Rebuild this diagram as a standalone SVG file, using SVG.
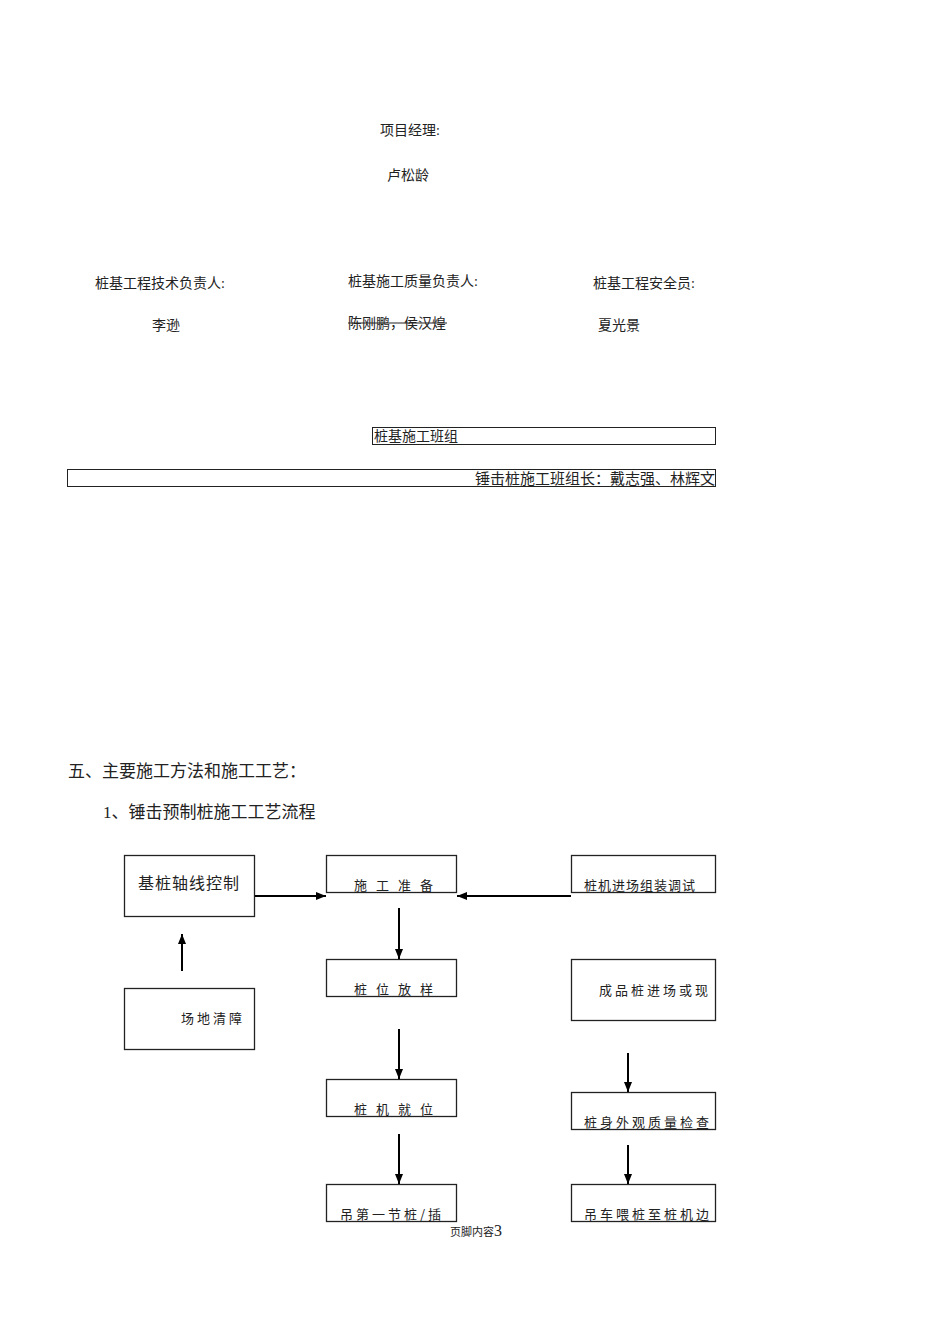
<svg xmlns="http://www.w3.org/2000/svg" width="950" height="1344" viewBox="0 0 950 1344">
<defs><marker id="ah" markerWidth="10" markerHeight="8" refX="10" refY="4" orient="auto" markerUnits="userSpaceOnUse"><path d="M0,0 L10,4 L0,8 Z" fill="#000"/></marker></defs>
<style>
text{font-family:"Liberation Serif","Noto Sans CJK SC",serif;fill:#222}
.t{font-size:14px}
.b{fill:#fff;stroke:#222;stroke-width:1.3}
.n{font-family:"Noto Sans CJK SC",sans-serif;font-size:13px;letter-spacing:3px}
.c{stroke:#000;stroke-width:2;fill:none;marker-end:url(#ah)}
</style>
<rect width="950" height="1344" fill="#fff"/>
<text class="t" x="380" y="135">项目经理:</text>
<text class="t" x="387" y="180">卢松龄</text>
<text class="t" x="95" y="288">桩基工程技术负责人:</text>
<text class="t" x="348" y="286">桩基施工质量负责人:</text>
<text class="t" x="593" y="288">桩基工程安全员:</text>
<text class="t" x="152" y="330">李逊</text>
<text class="t" x="348" y="328">陈刚鹏，侯汉煌</text>
<line x1="348" y1="323" x2="447" y2="323" stroke="#222" stroke-width="1"/>
<text class="t" x="598" y="330">夏光景</text>
<g id="team"><rect x="372.5" y="427.5" width="343" height="17" fill="none" stroke="#222"/><text class="t" x="374" y="441">桩基施工班组</text></g>
<g id="leader"><rect x="67.5" y="469.5" width="648" height="17" fill="none" stroke="#222"/><text class="t" x="715" y="484" text-anchor="end" style="font-size:15px">锤击桩施工班组长：戴志强、林辉文</text></g>
<text x="68" y="777" style="font-size:17px">五、主要施工方法和施工工艺：</text>
<text x="103" y="818" style="font-size:17px">1、锤击预制桩施工工艺流程</text>
<g id="n1"><rect class="b" x="124.5" y="855.5" width="130" height="61"/><text class="n" x="138" y="889" style="font-size:16px;letter-spacing:1px">基桩轴线控制</text></g>
<g id="n2"><rect class="b" x="326.5" y="855.5" width="130" height="37"/><text class="n" x="354" y="890" style="letter-spacing:9px">施工准备</text></g>
<g id="n3"><rect class="b" x="571.5" y="855.5" width="144" height="37"/><text class="n" x="584" y="890" style="letter-spacing:1px">桩机进场组装调试</text></g>
<g id="n4"><rect class="b" x="124.5" y="988.5" width="130" height="61"/><text class="n" x="181" y="1023">场地清障</text></g>
<g id="n5"><rect class="b" x="326.5" y="959.5" width="130" height="37"/><text class="n" x="354" y="994" style="letter-spacing:9px">桩位放样</text></g>
<g id="n6"><rect class="b" x="571.5" y="959.5" width="144" height="61"/><text class="n" x="599" y="995">成品桩进场或现</text></g>
<g id="n7"><rect class="b" x="326.5" y="1079.5" width="130" height="37"/><text class="n" x="354" y="1114" style="letter-spacing:9px">桩机就位</text></g>
<g id="n8"><rect class="b" x="571.5" y="1092.5" width="144" height="37"/><text class="n" x="584" y="1127" style="letter-spacing:3px">桩身外观质量检查</text></g>
<g id="n9"><rect class="b" x="326.5" y="1184.5" width="130" height="37"/><text class="n" x="340" y="1219">吊第一节桩/插</text></g>
<g id="n10"><rect class="b" x="571.5" y="1184.5" width="144" height="37"/><text class="n" x="584" y="1219" style="letter-spacing:3px">吊车喂桩至桩机边</text></g>
<g id="connectors">
<line class="c" x1="255" y1="896" x2="326" y2="896"/>
<line class="c" x1="571" y1="896" x2="457" y2="896"/>
<line class="c" x1="182" y1="971" x2="182" y2="934"/>
<line class="c" x1="399" y1="908" x2="399" y2="959"/>
<line class="c" x1="399" y1="1029" x2="399" y2="1079"/>
<line class="c" x1="399" y1="1134" x2="399" y2="1184"/>
<line class="c" x1="628" y1="1053" x2="628" y2="1092"/>
<line class="c" x1="628" y1="1145" x2="628" y2="1184"/>
</g>
<text x="450" y="1236" style="font-size:11px">页脚内容<tspan style="font-size:16px">3</tspan></text>
</svg>
